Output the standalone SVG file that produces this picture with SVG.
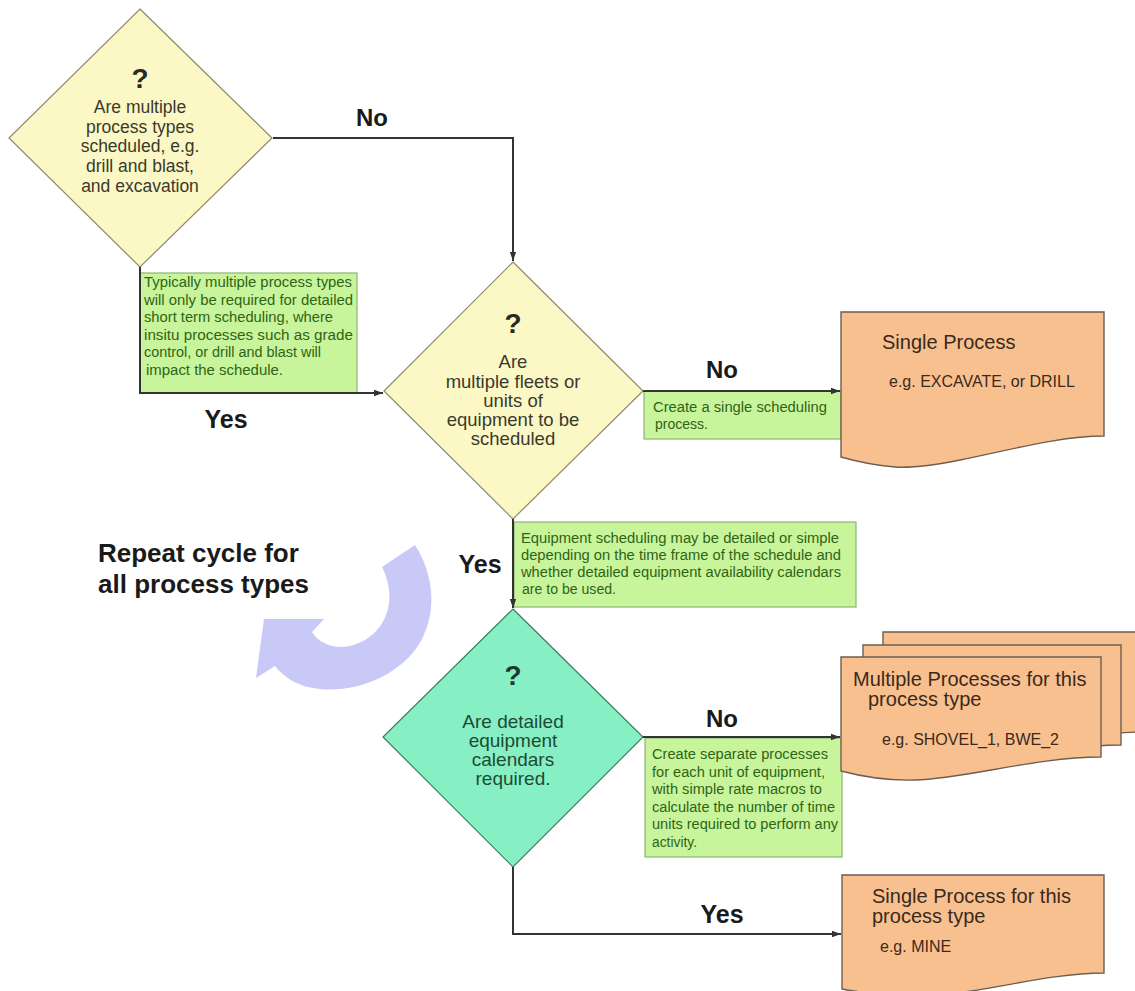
<svg xmlns="http://www.w3.org/2000/svg" width="1135" height="991" viewBox="0 0 1135 991">
<defs>
<marker id="ah" viewBox="0 0 10 10" refX="10" refY="5" markerWidth="9" markerHeight="9" markerUnits="userSpaceOnUse" orient="auto"><path d="M0,1.5 L10,5 L0,8.5 Z" fill="#333"/></marker>
<style>
.dy{fill:#fbf8c6;stroke:#8c8a6c;stroke-width:1.2}
.dg{fill:#86f0c4;stroke:#3d7c5c;stroke-width:1.2}
.note{fill:#c8f49c;stroke:#8db472;stroke-width:1.2}
.doc{fill:#f9c08f;stroke:#6e5e50;stroke-width:1.4}
.q{font-family:"Liberation Sans",Arial,sans-serif;font-weight:bold;font-size:28px;text-anchor:middle}
.dt{font-family:"Liberation Sans",Arial,sans-serif;text-anchor:middle;fill:#3a3a2c}
.dt3{fill:#1e4a34}
.nt{font-family:"Liberation Sans Narrow","Arial Narrow","Liberation Sans",sans-serif;font-size:14px;fill:#2f6414}
.lbl{font-family:"Liberation Sans",Arial,sans-serif;font-weight:bold;fill:#1a1a1a;text-anchor:middle}
.dtitle{font-family:"Liberation Sans",Arial,sans-serif;font-size:20px;fill:#3a2a1c}
.deg{font-family:"Liberation Sans",Arial,sans-serif;font-size:16px;fill:#3a2a1c}
.conn{fill:none;stroke:#333;stroke-width:2}
</style>
</defs>
<rect width="1135" height="991" fill="#ffffff"/>

<g id="repeat-cycle">
<path d="M415,545 C433,573 438,610 421,641 C401,676 355,693 320,689 C300,687 285,679 275,666 L256,678 L264,619 L324,619 L312,632 C322,648 345,652 365,640 C390,625 396,595 382,567 Z" fill="#c9c9f7"/>
<text class="lbl" x="98" y="562" font-size="26" style="text-anchor:start">Repeat cycle for</text>
<text class="lbl" x="98" y="593" font-size="26" style="text-anchor:start">all process types</text>
</g>

<g id="note1">
<rect class="note" x="140" y="273" width="217" height="120"/>
<text class="nt" x="144" y="287" textLength="208" lengthAdjust="spacingAndGlyphs">Typically multiple process types</text>
<text class="nt" x="144" y="304.5" textLength="209" lengthAdjust="spacingAndGlyphs">will only be required for detailed</text>
<text class="nt" x="144" y="322" textLength="189" lengthAdjust="spacingAndGlyphs">short term scheduling, where</text>
<text class="nt" x="144" y="339.5" textLength="209" lengthAdjust="spacingAndGlyphs">insitu processes such as grade</text>
<text class="nt" x="144" y="357" textLength="177" lengthAdjust="spacingAndGlyphs">control, or drill and blast will</text>
<text class="nt" x="146" y="374.5" textLength="137" lengthAdjust="spacingAndGlyphs">impact the schedule.</text>
</g>

<g id="note2">
<rect class="note" x="644" y="391" width="197" height="48"/>
<text class="nt" x="653" y="412" textLength="174" lengthAdjust="spacingAndGlyphs">Create a single scheduling</text>
<text class="nt" x="655" y="429" textLength="53" lengthAdjust="spacingAndGlyphs">process.</text>
</g>

<g id="note3">
<rect class="note" x="514" y="522" width="342" height="85"/>
<text class="nt" x="521" y="543" textLength="318" lengthAdjust="spacingAndGlyphs">Equipment scheduling may be detailed or simple</text>
<text class="nt" x="521" y="560" textLength="320" lengthAdjust="spacingAndGlyphs">depending on the time frame of the schedule and</text>
<text class="nt" x="521" y="577" textLength="320" lengthAdjust="spacingAndGlyphs">whether detailed equipment availability calendars</text>
<text class="nt" x="522" y="594" textLength="94" lengthAdjust="spacingAndGlyphs">are to be used.</text>
</g>

<g id="note4">
<rect class="note" x="645" y="738" width="197" height="119"/>
<text class="nt" x="652" y="759" textLength="176" lengthAdjust="spacingAndGlyphs">Create separate processes</text>
<text class="nt" x="652" y="776.5" textLength="173" lengthAdjust="spacingAndGlyphs">for each unit of equipment,</text>
<text class="nt" x="652" y="794" textLength="170" lengthAdjust="spacingAndGlyphs">with simple rate macros to</text>
<text class="nt" x="652" y="811.5" textLength="183" lengthAdjust="spacingAndGlyphs">calculate the number of time</text>
<text class="nt" x="652" y="829" textLength="186" lengthAdjust="spacingAndGlyphs">units required to perform any</text>
<text class="nt" x="652" y="846.5" textLength="45" lengthAdjust="spacingAndGlyphs">activity.</text>
</g>

<g id="decision1">
<path class="dy" d="M140,9 L272,138 L140,267 L9,138 Z"/>
<text class="q" x="140" y="88" fill="#2a2a20">?</text>
<text class="dt" font-size="17.5" x="140" y="113">Are multiple</text>
<text class="dt" font-size="17.5" x="140" y="133">process types</text>
<text class="dt" font-size="17.5" x="140" y="152">scheduled, e.g.</text>
<text class="dt" font-size="17.5" x="140" y="172">drill and blast,</text>
<text class="dt" font-size="17.5" x="140" y="192">and excavation</text>
</g>

<g id="decision2">
<path class="dy" d="M513,262 L643,391 L513,519 L384,391 Z"/>
<text class="q" x="513" y="333" fill="#2a2a20">?</text>
<text class="dt" font-size="18.5" x="513" y="368">Are</text>
<text class="dt" font-size="18.5" x="513" y="388">multiple fleets or</text>
<text class="dt" font-size="18.5" x="513" y="407">units of</text>
<text class="dt" font-size="18.5" x="513" y="426">equipment to be</text>
<text class="dt" font-size="18.5" x="513" y="445">scheduled</text>
</g>

<g id="decision3">
<path class="dg" d="M513,609 L643,737 L513,867 L383,737 Z"/>
<text class="q" x="513" y="685" fill="#1e3a2c">?</text>
<text class="dt dt3" font-size="19" x="513" y="728">Are detailed</text>
<text class="dt dt3" font-size="19" x="513" y="747">equipment</text>
<text class="dt dt3" font-size="19" x="513" y="766">calendars</text>
<text class="dt dt3" font-size="19" x="513" y="785">required.</text>
</g>

<g id="doc-single">
<path class="doc" d="M841,312 H1104 V436 C1060,436 1010,450 960,460 C930,466 910,468 895,467 C870,465 855,461 841,457 Z"/>
<text class="dtitle" x="882" y="349">Single Process</text>
<text class="deg" x="889" y="387">e.g. EXCAVATE, or DRILL</text>
</g>

<g id="doc-multiple">
<path class="doc" d="M883,632 H1145 V732 C1080,732 1010,752 960,753 C930,754 905,750 883,746 Z"/>
<path class="doc" d="M863,645 H1121 V745 C1055,745 985,765 940,766 C910,767 885,763 863,759 Z"/>
<path class="doc" d="M841,657 H1101 V757 C1035,757 965,779 915,780 C885,781 860,776 841,771 Z"/>
<text class="dtitle" x="853" y="686">Multiple Processes for this</text>
<text class="dtitle" x="868" y="706">process type</text>
<text class="deg" x="882" y="745">e.g. SHOVEL_1, BWE_2</text>
</g>

<g id="doc-single-type">
<path class="doc" d="M842,875 H1104 V973 C1045,973 975,995 925,996 C895,997 865,993 842,989 Z"/>
<text class="dtitle" x="872" y="903">Single Process for this</text>
<text class="dtitle" x="872" y="923">process type</text>
<text class="deg" x="880" y="952">e.g. MINE</text>
</g>

<g id="connectors">
<path class="conn" d="M273,138 H513 V261" marker-end="url(#ah)"/>
<path class="conn" d="M140,267 V393 H383" marker-end="url(#ah)"/>
<path class="conn" d="M643,391 H840" marker-end="url(#ah)"/>
<path class="conn" d="M513,519 V608" marker-end="url(#ah)"/>
<path class="conn" d="M643,737 H840" marker-end="url(#ah)"/>
<path class="conn" d="M513,867 V934 H841" marker-end="url(#ah)"/>
<text class="lbl" x="372" y="126" font-size="24">No</text>
<text class="lbl" x="226" y="428" font-size="25">Yes</text>
<text class="lbl" x="722" y="378" font-size="24">No</text>
<text class="lbl" x="480" y="573" font-size="25">Yes</text>
<text class="lbl" x="722" y="727" font-size="24">No</text>
<text class="lbl" x="722" y="923" font-size="25">Yes</text>
</g>
</svg>
